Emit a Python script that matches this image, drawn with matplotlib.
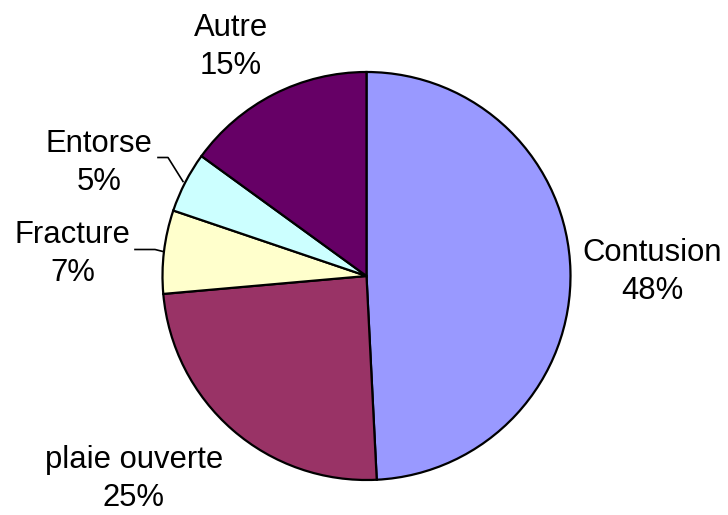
import matplotlib
matplotlib.use("Agg")
import matplotlib.pyplot as plt

categories = ["Contusion", "plaie ouverte", "Fracture", "Entorse", "Autre"]
parts = [49.2, 24.4, 6.6, 4.8, 15.0]
pourcentages = ["48%", "25%", "7%", "5%", "15%"]
couleurs = ["#9999FF", "#993366", "#FFFFCC", "#CCFFFF", "#660066"]

# position des etiquettes (pixels, origine en haut a gauche)
pos_etiquettes = [(652, 272), (134, 479), (72.5, 254), (99, 163), (231, 47)]

LARGE = 728
HAUT = 515

plt.rcParams['font.family'] = ['Liberation Sans', 'DejaVu Sans']

fig = plt.figure(figsize=(LARGE / 100, HAUT / 100), dpi=100)
ax = fig.add_axes([0, 0, 1, 1])

ax.pie(parts, colors=couleurs, startangle=90, counterclock=False,
       center=(366.5, HAUT - 276), radius=204, frame=True,
       wedgeprops=dict(edgecolor='black', linewidth=1.6))
ax.set_xlim(0, LARGE)
ax.set_ylim(0, HAUT)
ax.set_aspect('equal')
ax.axis('off')

for nom, pct, (x, y) in zip(categories, pourcentages, pos_etiquettes):
    ax.text(x, HAUT - y, nom + "\n" + pct, ha='center', va='center',
            fontsize=22.3, linespacing=1.37, color='black')

# traits de rappel
ax.plot([158, 168, 183], [HAUT - 157.5, HAUT - 157.5, HAUT - 181.5], color='black', lw=1.2)
ax.plot([135, 155, 163], [HAUT - 249.5, HAUT - 249.5, HAUT - 251.5], color='black', lw=1.2)

fig.savefig("out.png", dpi=100)
